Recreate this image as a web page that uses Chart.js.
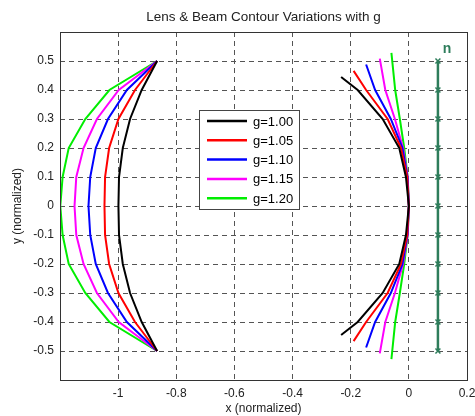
<!DOCTYPE html>
<html>
<head>
<meta charset="utf-8">
<script src="https://cdn.jsdelivr.net/npm/chart.js@4"></script>
<style>
  body { margin: 0; background: #fff; }
  #wrap { width: 475px; height: 416px; }
</style>
</head>
<body>
<div id="wrap"><canvas id="chart" width="475" height="416"></canvas></div>
<script>
var title = "Lens & Beam Contour Variations with g";
var gLabels = ["g=1.00", "g=1.05", "g=1.10", "g=1.15", "g=1.20"];
var colors = ["#000000", "#ff0000", "#0000ff", "#ff00ff", "#00ee00"];

// lens contour (left), y from 0.5 down to -0.5
var lensY = [0.5, 0.4, 0.3, 0.2, 0.1, 0, -0.1, -0.2, -0.3, -0.4, -0.5];
var lensX = [
    [-0.866, -0.919, -0.959, -0.984, -0.997, -0.999, -0.997, -0.984, -0.959, -0.919, -0.866],
    [-0.866, -0.942, -0.999, -1.031, -1.045, -1.047, -1.045, -1.031, -0.999, -0.942, -0.866],
    [-0.866, -0.970, -1.035, -1.077, -1.096, -1.102, -1.096, -1.077, -1.035, -0.970, -0.866],
    [-0.866, -0.998, -1.073, -1.119, -1.144, -1.150, -1.144, -1.119, -1.073, -0.998, -0.866],
    [-0.866, -1.030, -1.113, -1.170, -1.191, -1.199, -1.191, -1.170, -1.113, -1.030, -0.866]
];

// beam contour (right): end points then inner values at y = 0.4 .. -0.4
var beamEndY = [0.445, 0.466, 0.488, 0.508, 0.528];
var beamEndX = [-0.233, -0.190, -0.147, -0.100, -0.060];
var beamY = [0.4, 0.3, 0.2, 0.1, 0, -0.1, -0.2, -0.3, -0.4];
var beamX = [
    [-0.176, -0.090, -0.033, -0.010, 0, -0.010, -0.033, -0.090, -0.176],
    [-0.147, -0.073, -0.027, -0.006, 0, -0.006, -0.027, -0.073, -0.147],
    [-0.116, -0.062, -0.022, -0.005, 0, -0.005, -0.022, -0.062, -0.116],
    [-0.081, -0.048, -0.020, -0.004, 0, -0.004, -0.020, -0.048, -0.081],
    [-0.047, -0.031, -0.016, -0.004, 0, -0.004, -0.016, -0.031, -0.047]
];

// sample points n
var nX = 0.1;
var nY = [0.5, 0.4, 0.3, 0.2, 0.1, 0, -0.1, -0.2, -0.3, -0.4, -0.5];
var nColor = "#2e7d5b";

var font = "'Liberation Sans', Arial, sans-serif";

var datasets = [];
for (var i = 0; i < gLabels.length; i++) {
    var pts = [];
    for (var j = 0; j < lensY.length; j++) {
        pts.push({x: lensX[i][j], y: lensY[j]});
    }
    datasets.push({label: gLabels[i], data: pts, borderColor: colors[i], showLine: true,
        borderWidth: 2, pointRadius: 0, tension: 0});
}
for (var i = 0; i < gLabels.length; i++) {
    var pts = [{x: beamEndX[i], y: beamEndY[i]}];
    for (var j = 0; j < beamY.length; j++) {
        pts.push({x: beamX[i][j], y: beamY[j]});
    }
    pts.push({x: beamEndX[i], y: -beamEndY[i]});
    datasets.push({label: "", data: pts, borderColor: colors[i], showLine: true,
        borderWidth: 2, pointRadius: 0, tension: 0});
}
var npts = [];
for (var j = 0; j < nY.length; j++) {
    npts.push({x: nX, y: nY[j]});
}
datasets.push({label: "n", data: npts, borderColor: nColor, backgroundColor: nColor, showLine: true,
    borderWidth: 2.5, pointStyle: "crossRot", pointRadius: 3.5, pointBorderWidth: 1.5});

var extras = {
    id: "extras",
    afterDraw: function(chart) {
        var ctx = chart.ctx;
        var xs = chart.scales.x, ys = chart.scales.y;
        var a = chart.chartArea;
        ctx.save();
        // title
        ctx.fillStyle = "#222";
        ctx.font = "13.5px " + font;
        ctx.textAlign = "center";
        ctx.textBaseline = "middle";
        ctx.fillText(title, (a.left + a.right) / 2, 17);
        // n label
        ctx.fillStyle = nColor;
        ctx.font = "bold 14px " + font;
        ctx.fillText("n", xs.getPixelForValue(0.131), ys.getPixelForValue(0.54));
        // legend box
        var lx = 199, ly = 110, lw = 100, lh = 99;
        ctx.fillStyle = "#fff";
        ctx.fillRect(lx, ly, lw, lh);
        ctx.strokeStyle = "#444";
        ctx.lineWidth = 1;
        ctx.strokeRect(lx + 0.5, ly + 0.5, lw, lh);
        ctx.font = "13px " + font;
        ctx.textAlign = "left";
        for (var i = 0; i < gLabels.length; i++) {
            var yy = ly + 11 + i * 19.3;
            ctx.strokeStyle = colors[i];
            ctx.lineWidth = 2.5;
            ctx.beginPath();
            ctx.moveTo(lx + 8, yy);
            ctx.lineTo(lx + 48, yy);
            ctx.stroke();
            ctx.fillStyle = "#000";
            ctx.fillText(gLabels[i], lx + 54, yy + 1);
        }
        // frame
        ctx.strokeStyle = "#333";
        ctx.lineWidth = 1;
        ctx.strokeRect(a.left + 0.5, a.top + 0.5, a.right - a.left, a.bottom - a.top);
        ctx.restore();
    }
};

function fmt(v) {
    var r = Math.round(v * 10) / 10;
    return String(r);
}

new Chart(document.getElementById("chart"), {
    type: "scatter",
    data: {datasets: datasets},
    options: {
        responsive: false,
        animation: false,
        layout: {autoPadding: false, padding: {left: 0, right: 8, top: 32, bottom: 0}},
        plugins: {
            legend: {display: false},
            tooltip: {enabled: false},
            title: {display: false}
        },
        scales: {
            x: {
                type: "linear", min: -1.2, max: 0.2,
                afterFit: function(s) { s.height = 36; s.paddingLeft = 0; s.paddingRight = 0; },
                border: {display: false, dash: [5, 4]},
                grid: {color: "#555", lineWidth: 1, drawTicks: false},
                ticks: {
                    stepSize: 0.2, color: "#222", padding: 6,
                    font: {family: font, size: 12},
                    callback: function(v) { return Math.abs(v + 1.2) < 1e-6 ? "" : fmt(v); }
                },
                title: {display: true, text: "x (normalized)", color: "#222", padding: {top: 0, bottom: 0},
                    font: {family: font, size: 12}}
            },
            y: {
                type: "linear", min: -0.6, max: 0.6,
                afterFit: function(s) { s.width = 60; s.paddingTop = 0; s.paddingBottom = 0; },
                border: {display: false, dash: [5, 4]},
                grid: {color: "#555", lineWidth: 1, drawTicks: false},
                ticks: {
                    stepSize: 0.1, color: "#222", padding: 6,
                    font: {family: font, size: 12},
                    callback: function(v) { return Math.abs(Math.abs(v) - 0.6) < 1e-6 ? "" : fmt(v); }
                },
                title: {display: true, text: "y (normalized)", color: "#222", padding: {top: 10, bottom: 0},
                    font: {family: font, size: 12}}
            }
        }
    },
    plugins: [extras]
});
</script>
</body>
</html>
